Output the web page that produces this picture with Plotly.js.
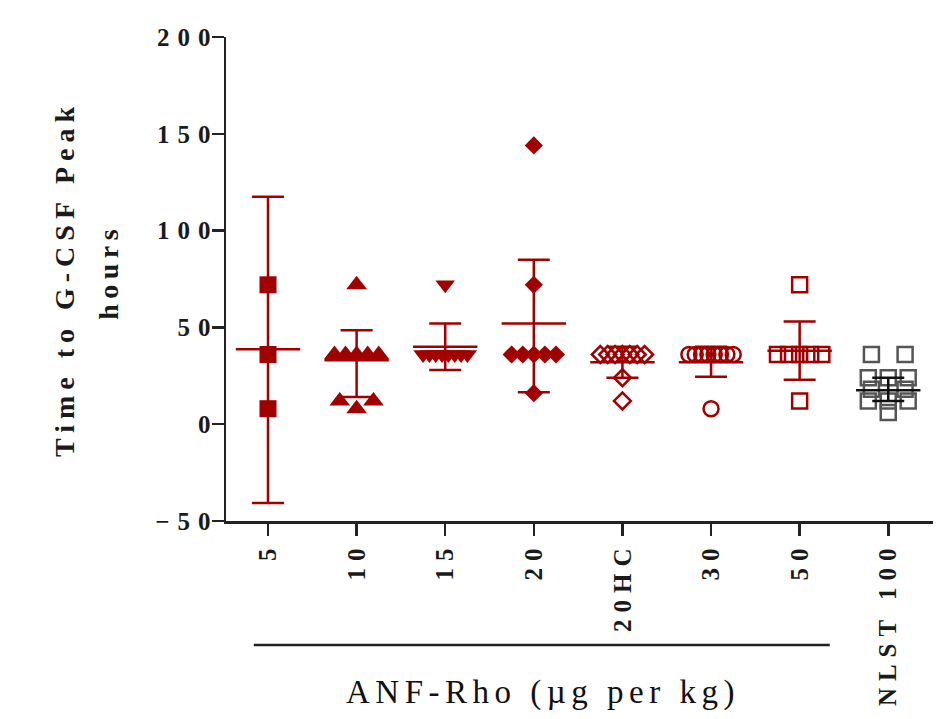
<!DOCTYPE html>
<html><head><meta charset="utf-8">
<script src="https://cdn.plot.ly/plotly-3.0.1.min.js"></script>
<style>
body{margin:0;background:#fff}
#chart{width:942px;height:719px}
.xtick text {letter-spacing:7px}
.ytick text {letter-spacing:8px}
.ytitle {letter-spacing:6px}
.annotation-text {letter-spacing:5.5px}
</style></head><body><div id="chart"></div>
<script>
// Tick labels (groups)
const categories = ['5','10','15','20','20HC','30','50','NLST 100'];
// Individual animals: time to G-CSF peak (hours)
const dose5    = [72, 36, 8];
const dose10   = [72, 36, 36, 36, 36, 36, 12, 8, 12];
const dose15   = [72, 36, 36, 36, 36, 36, 36, 36, 36];
const dose20   = [144, 72, 36, 36, 36, 36, 36, 16];
const dose20HC = [36, 36, 36, 36, 36, 36, 36, 24, 12];
const dose30   = [36, 36, 36, 36, 36, 36, 36, 36, 8];
const dose50   = [72, 36, 36, 36, 36, 36, 12];
const nlst100  = [36, 36, 24, 24, 24, 18, 18, 12, 12, 12, 6];
// Group mean and 95% CI ends
const groupMeans = [38.7, 33, 40, 52, 32, 32, 38, 17.5];
const ciUpper    = [117.5, 48.5, 52, 85, 40, 40, 53, 24];
const ciLower    = [-40.7, 14, 28, 16.5, 24, 24.5, 23, 12];

const groups = [dose5, dose10, dose15, dose20, dose20HC, dose30, dose50, nlst100];

const RED = '#A00000';
const styles = [
  {symbol:'square', size:17, color:RED, line:RED, open:false},
  {symbol:'triangle-up', size:18, color:RED, line:RED, open:false},
  {symbol:'triangle-down', size:17, color:RED, line:RED, open:false},
  {symbol:'diamond', size:14, color:RED, line:RED, open:false},
  {symbol:'diamond-open', size:13, color:RED, line:RED, open:true},
  {symbol:'circle-open', size:15, color:RED, line:RED, open:true},
  {symbol:'square-open', size:15, color:RED, line:RED, open:true},
  {symbol:'square-open', size:15, color:'#555555', line:'#111111', open:true}
];

// spread equal values horizontally (scatter-dot layout)
function spread(vals){
  const counts = {}; vals.forEach(v => counts[v] = (counts[v]||0) + 1);
  const seen = {};
  return vals.map(v => {
    const n = counts[v];
    const k = (seen[v] = (seen[v]||0) + 1) - 1;
    if (n === 1) return 0;
    const w = n === 2 ? 0.38 : (n === 3 ? 0.45 : 0.5);
    return -w/2 + k*w/(n-1);
  });
}

const traces = [];
groups.forEach((vals, i) => {
  const st = styles[i];
  const off = spread(vals);
  traces.push({
    type:'scatter', mode:'markers',
    x: off.map(o => i + o), y: vals,
    marker:{symbol:st.symbol, size:st.size, color:st.color,
            line:{color:st.color, width: st.open ? 2.5 : 0}},
    hoverinfo:'y', showlegend:false
  });
});
groups.forEach((vals, i) => {
  const st = styles[i];
  traces.push({
    type:'scatter', mode:'markers',
    x:[i], y:[groupMeans[i]],
    marker:{symbol:'line-ew', size:46, color:st.line, line:{color:st.line, width:2.5}},
    error_y:{type:'data', symmetric:false,
             array:[ciUpper[i]-groupMeans[i]], arrayminus:[groupMeans[i]-ciLower[i]],
             color:st.line, thickness:2.5, width:16},
    hoverinfo:'y', showlegend:false
  });
});

const SERIF = 'Liberation Serif, Times New Roman, serif';
const tickFont = {family:SERIF, size:25, color:'#1a1a1a', weight:'bold'};

const layout = {
  width:942, height:719,
  margin:{l:226, r:9, t:37, b:198},
  paper_bgcolor:'#fff', plot_bgcolor:'#fff',
  showlegend:false,
  xaxis:{
    range:[-0.474, 7.505], tickmode:'array',
    tickvals: categories.map((c,i)=>i), ticktext: categories,
    tickangle:-90, tickfont:tickFont, ticklabelstandoff:-4,
    showline:true, linecolor:'#222', linewidth:2.5,
    ticks:'outside', ticklen:12, tickwidth:2.5, tickcolor:'#222',
    showgrid:false, zeroline:false, automargin:false
  },
  yaxis:{
    range:[-50, 200], tick0:0, dtick:50,
    tickfont:tickFont, ticklabelstandoff:-12,
    showline:true, linecolor:'#222', linewidth:2.5,
    ticks:'outside', ticklen:12, tickwidth:2.5, tickcolor:'#222',
    showgrid:false, zeroline:false, automargin:false,
    title:{text:'Time to G-CSF Peak', standoff:73,
           font:{family:SERIF, size:28, color:'#1a1a1a', weight:'bold'}}
  },
  shapes:[{type:'line', xref:'x', yref:'paper', x0:-0.16, x1:6.34, y0:-0.256, y1:-0.256,
           line:{color:'#222', width:2.5}}],
  annotations:[
    {text:'hours', xref:'paper', yref:'paper', x:-0.166, y:0.514, textangle:-90,
     showarrow:false, xanchor:'center', yanchor:'middle',
     font:{family:SERIF, size:28, color:'#1a1a1a', weight:'bold'}},
    {text:'ANF-Rho (µg per kg)', xref:'x', yref:'paper', x:3.1, y:-0.355,
     showarrow:false, xanchor:'center', yanchor:'middle',
     font:{family:SERIF, size:33, color:'#111'}}
  ]
};

Plotly.newPlot('chart', traces, layout, {staticPlot:true, displayModeBar:false});
</script></body></html>
